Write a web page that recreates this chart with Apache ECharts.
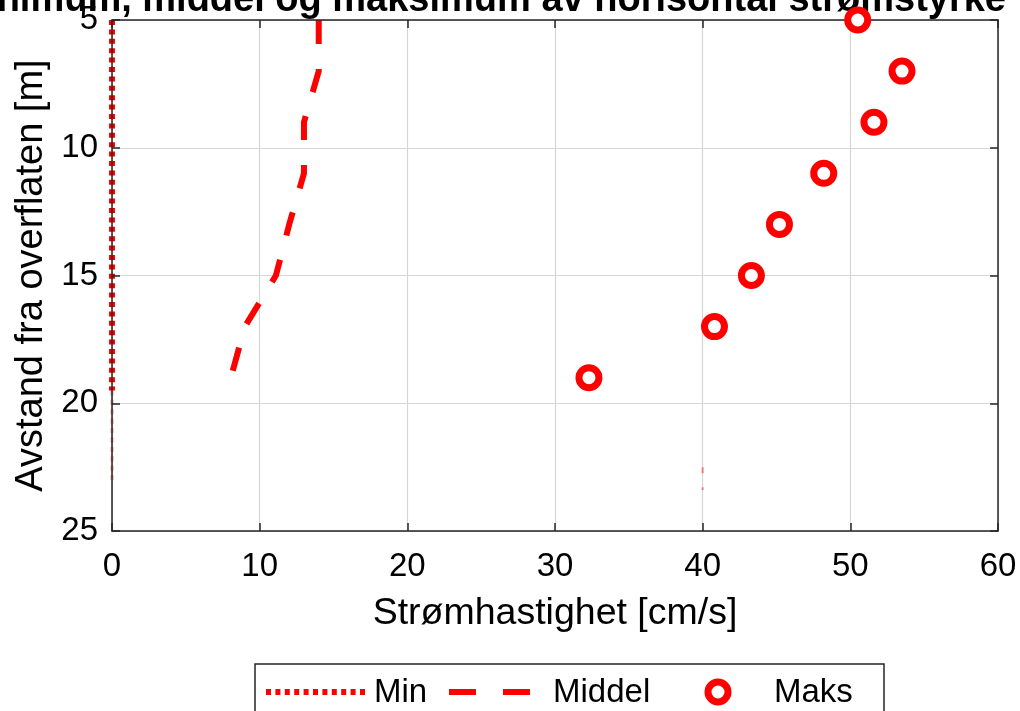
<!DOCTYPE html>
<html>
<head>
<meta charset="utf-8">
<script src="https://cdn.jsdelivr.net/npm/echarts@6/dist/echarts.min.js"></script>
<style>
  html, body { margin: 0; padding: 0; background: #fff; }
  #chart { width: 1020px; height: 711px; }
</style>
</head>
<body>
<div id="chart"></div>
<script>
// Depths (m below surface) and current speeds (cm/s)
const depthLine = [5, 7, 9, 11, 13, 15, 17, 19, 19.5];
const minSpeed = [0, 0, 0, 0, 0, 0, 0, 0, 0];
const meanSpeed = [14, 14, 13, 13, 12, 11.1, 9, 8.05, 7.85];
const depthMax = [5, 7, 9, 11, 13, 15, 17, 19];
const maxSpeed = [50.5, 53.5, 51.6, 48.2, 45.2, 43.3, 40.8, 32.3];
// faint leftover strokes below the profiles
const minTailDepth = [19.5, 23];
const minTailSpeed = [0, 0];
const stubDepth = [22.5, 23.4];
const stubSpeed = [40, 40];

const xTicks = { min: 0, max: 60, interval: 10 };
const yTicks = { min: 5, max: 25, interval: 5 };

const FONT = 'Liberation Sans, Arial, sans-serif';
const RED = '#ff0000';
const AX = '#262626';

const pairs = (xs, ys) => xs.map((x, i) => [x, ys[i]]);

const chart = echarts.init(document.getElementById('chart'), null, { renderer: 'canvas' });

const baseX = { type: 'value', min: xTicks.min, max: xTicks.max, interval: xTicks.interval };
const baseY = { type: 'value', min: yTicks.min, max: yTicks.max, interval: yTicks.interval, inverse: true };
const boxLine = { show: true, onZero: false, lineStyle: { color: AX, width: 1.5 } };
const boxTick = { show: true, inside: true, length: 8, lineStyle: { color: AX, width: 1.5 } };
const noLabel = { show: false };

chart.setOption({
  animation: false,
  backgroundColor: '#fff',
  grid: { left: 112, top: 20, width: 886, height: 511, containLabel: false },
  xAxis: [
    Object.assign({}, baseX, {
      position: 'bottom', axisLine: { show: false }, axisTick: { show: false }, axisLabel: noLabel,
      splitLine: { show: true, lineStyle: { color: '#d6d6d6', width: 1.2 } }
    }),
    Object.assign({}, baseX, {
      position: 'bottom', z: 5, axisLine: boxLine, axisTick: boxTick, splitLine: { show: false },
      axisLabel: { show: true, fontSize: 33, color: '#000', fontFamily: FONT, margin: 19 },
      name: 'Strømhastighet [cm/s]', nameLocation: 'middle', nameGap: 64,
      nameTextStyle: { fontSize: 37.5, color: '#000', fontFamily: FONT }
    }),
    Object.assign({}, baseX, {
      position: 'top', z: 5, axisLine: boxLine, axisTick: boxTick, axisLabel: noLabel, splitLine: { show: false }
    })
  ],
  yAxis: [
    Object.assign({}, baseY, {
      position: 'left', axisLine: { show: false }, axisTick: { show: false }, axisLabel: noLabel,
      splitLine: { show: true, lineStyle: { color: '#d6d6d6', width: 1.2 } }
    }),
    Object.assign({}, baseY, {
      position: 'left', z: 5, axisLine: boxLine, axisTick: boxTick, splitLine: { show: false },
      axisLabel: { show: true, fontSize: 33, color: '#000', fontFamily: FONT, margin: 14 },
      name: 'Avstand fra overflaten [m]', nameLocation: 'middle', nameGap: 57,
      nameTextStyle: { fontSize: 38, color: '#000', fontFamily: FONT }
    }),
    Object.assign({}, baseY, {
      position: 'right', z: 5, axisLine: boxLine, axisTick: boxTick, axisLabel: noLabel, splitLine: { show: false }
    })
  ],
  series: [
    {
      name: 'Min', type: 'line', xAxisIndex: 0, yAxisIndex: 0, z: 2,
      data: pairs(minSpeed, depthLine), showSymbol: false, symbol: 'none',
      lineStyle: { color: RED, width: 6, type: [5, 4.4], cap: 'butt' }
    },
    {
      name: 'MinTail', type: 'line', xAxisIndex: 0, yAxisIndex: 0, z: 2,
      data: pairs(minTailSpeed, minTailDepth), symbol: 'none',
      lineStyle: { color: RED, width: 3, type: [5, 4.4], opacity: 0.35 }
    },
    {
      name: 'Stub', type: 'line', xAxisIndex: 0, yAxisIndex: 0, z: 2,
      data: pairs(stubSpeed, stubDepth), symbol: 'none',
      lineStyle: { color: RED, width: 2, type: [6, 14], opacity: 0.45 }
    },
    {
      name: 'Middel', type: 'line', xAxisIndex: 0, yAxisIndex: 0, z: 2,
      data: pairs(meanSpeed, depthLine), symbol: 'none',
      lineStyle: { color: RED, width: 6, type: [24, 25], cap: 'butt', join: 'round' }
    },
    {
      name: 'Maks', type: 'scatter', xAxisIndex: 0, yAxisIndex: 0, z: 6, clip: false,
      data: pairs(maxSpeed, depthMax), symbol: 'circle', symbolSize: 20,
      itemStyle: { color: '#fff', borderColor: RED, borderWidth: 7, opacity: 1 },
      emphasis: { disabled: true }
    }
  ],
  graphic: [
    {
      type: 'text', x: 1006, y: 20, z: 1,
      style: {
        text: 'Minimum, middel og maksimum av horisontal strømstyrke',
        fontSize: 38, fontWeight: 'bold', fontFamily: FONT, fill: '#000',
        align: 'right', verticalAlign: 'bottom'
      }
    },
    {
      type: 'group', z: 10,
      children: [
        { type: 'rect', shape: { x: 255, y: 664, width: 629, height: 70 },
          style: { fill: '#fff', stroke: AX, lineWidth: 1.5 } },
        { type: 'line', shape: { x1: 266, y1: 692, x2: 365, y2: 692 },
          style: { stroke: RED, lineWidth: 6, lineDash: [5, 4.4] } },
        { type: 'text', x: 374, y: 693,
          style: { text: 'Min', fontSize: 33, fontFamily: FONT, fill: '#000', verticalAlign: 'middle' } },
        { type: 'line', shape: { x1: 449, y1: 692, x2: 530, y2: 692 },
          style: { stroke: RED, lineWidth: 6, lineDash: [27, 27] } },
        { type: 'text', x: 553, y: 693,
          style: { text: 'Middel', fontSize: 33, fontFamily: FONT, fill: '#000', verticalAlign: 'middle' } },
        { type: 'circle', shape: { cx: 718, cy: 692, r: 10 },
          style: { fill: '#fff', stroke: RED, lineWidth: 7 } },
        { type: 'text', x: 774, y: 693,
          style: { text: 'Maks', fontSize: 33, fontFamily: FONT, fill: '#000', verticalAlign: 'middle' } }
      ]
    }
  ]
});
</script>
</body>
</html>
